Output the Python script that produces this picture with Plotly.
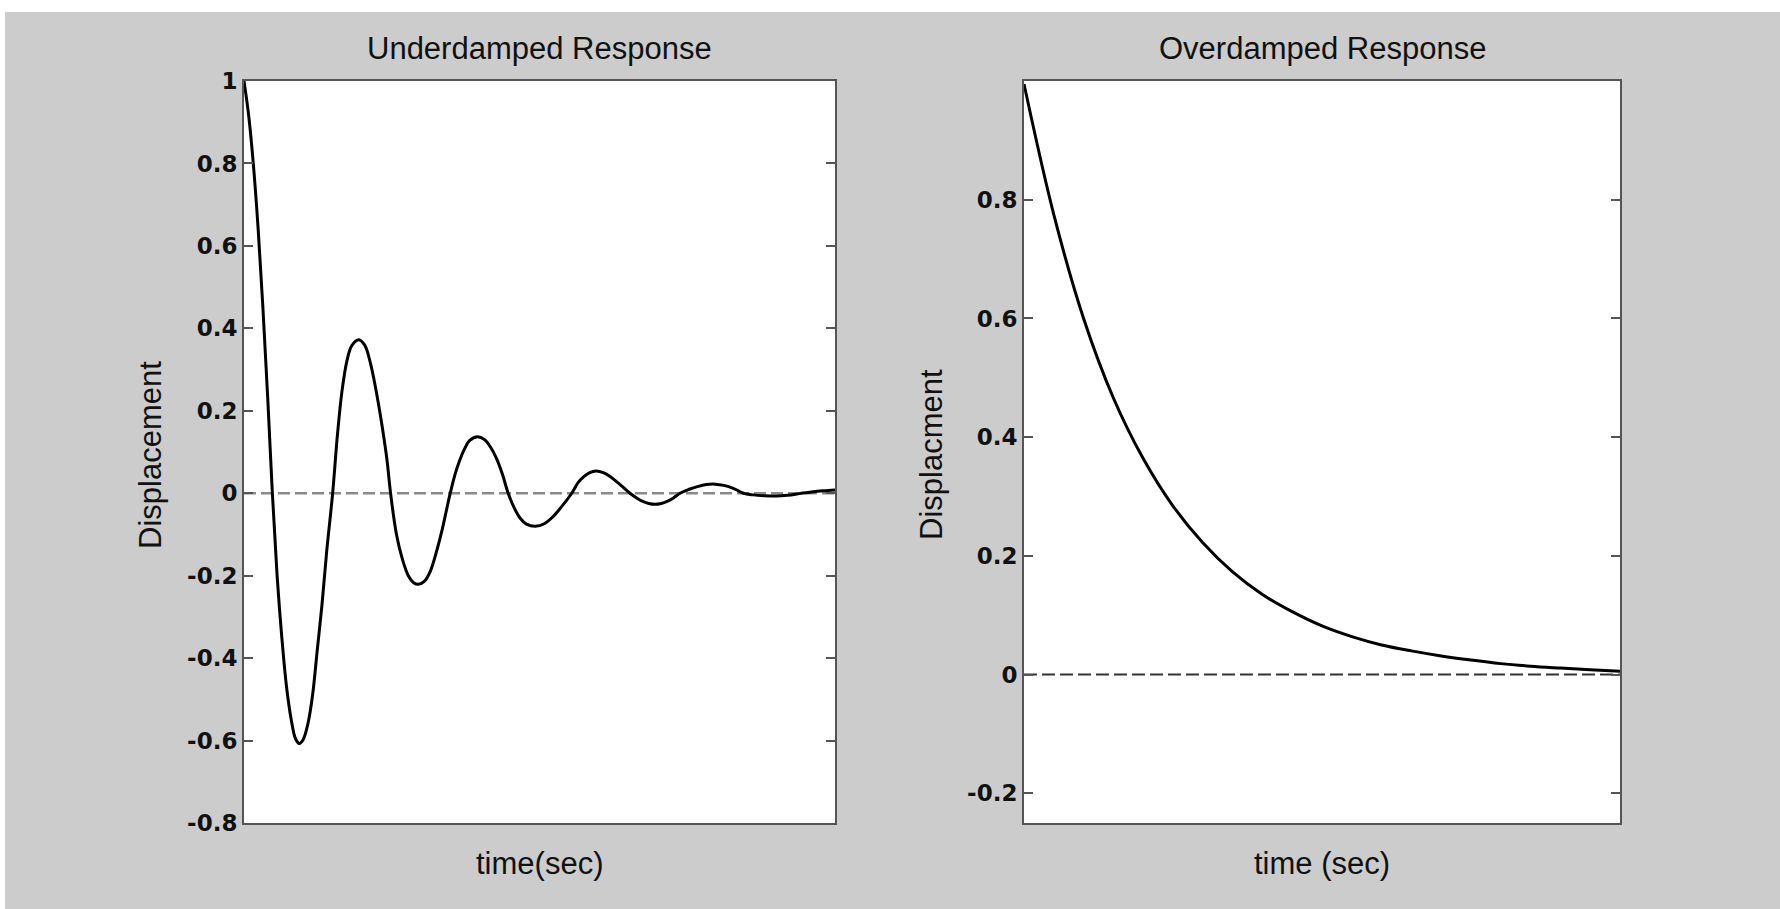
import plotly.graph_objects as go

# ---- data ----
t_under = [0, 0.08, 0.16, 0.24, 0.32, 0.40, 0.48,
           0.56, 0.64, 0.72, 0.80, 0.87, 0.936,
           1.0, 1.08, 1.16, 1.24, 1.32, 1.40, 1.50,
           1.58, 1.66, 1.74, 1.82, 1.93, 2.04, 2.14, 2.24, 2.34, 2.42, 2.48,
           2.58, 2.68, 2.78, 2.87, 2.95, 3.05, 3.15, 3.25, 3.35, 3.42, 3.49,
           3.57, 3.65, 3.73, 3.82, 3.95, 4.07, 4.17, 4.27, 4.37, 4.47,
           4.57, 4.67, 4.78, 4.93, 5.08, 5.22, 5.36, 5.545,
           5.65, 5.75, 5.85, 5.956, 6.08, 6.20, 6.33, 6.531,
           6.65, 6.75, 6.85, 6.954, 7.06, 7.16, 7.26, 7.377,
           7.52, 7.67, 7.82, 7.97, 8.12, 8.28, 8.449,
           8.62, 8.80, 9.00, 9.20, 9.40, 9.60, 9.80, 10]
y_under = [1.0, 0.915, 0.795, 0.64, 0.45, 0.235, 0.0,
           -0.20, -0.35, -0.47, -0.55, -0.595, -0.607,
           -0.598, -0.56, -0.49, -0.38, -0.27, -0.14, 0.0,
           0.14, 0.25, 0.32, 0.357, 0.372, 0.36, 0.315, 0.245, 0.16, 0.08, 0.0,
           -0.10, -0.16, -0.20, -0.217, -0.221, -0.214, -0.19, -0.145, -0.09, -0.045, 0.0,
           0.045, 0.08, 0.107, 0.128, 0.137, 0.13, 0.112, 0.085, 0.047, 0.0,
           -0.035, -0.06, -0.075, -0.08, -0.074, -0.058, -0.035, 0.0,
           0.025, 0.04, 0.05, 0.054, 0.05, 0.04, 0.025, 0.0,
           -0.012, -0.02, -0.025, -0.027, -0.025, -0.02, -0.012, 0.0,
           0.009, 0.016, 0.021, 0.022, 0.019, 0.012, 0.0,
           -0.004, -0.006, -0.007, -0.005, -0.001, 0.003, 0.006, 0.008]

t_over = [0, 0.5, 1.0, 1.5, 2.0, 2.5, 3.0, 3.5, 4.0, 4.5, 5.0, 5.5, 6.0, 6.5, 7.0,
          7.5, 8.0, 8.5, 9.0, 9.5, 10]
y_over = [0.995, 0.775, 0.600, 0.466, 0.364, 0.284, 0.222, 0.173, 0.135, 0.106, 0.082,
          0.064, 0.050, 0.040, 0.0315, 0.0245, 0.0185, 0.0142, 0.011, 0.008, 0.0055]

zero_t = [0, 10]
zero_y = [0, 0]

left_ticks = [-0.8, -0.6, -0.4, -0.2, 0, 0.2, 0.4, 0.6, 0.8, 1]
left_labels = ["-0.8", "-0.6", "-0.4", "-0.2", "0", "0.2", "0.4", "0.6", "0.8", "1"]
right_ticks = [-0.2, 0, 0.2, 0.4, 0.6, 0.8]
right_labels = ["-0.2", "0", "0.2", "0.4", "0.6", "0.8"]

titles = ["Underdamped Response", "Overdamped Response"]
ylabels = ["Displacement", "Displacment"]
xlabels = ["time(sec)", "time (sec)"]

# ---- layout geometry (pixels of 1780x909 page) ----
W, H = 1780, 909
def px(x):
    return x / W
def py(y):
    return 1 - y / H

fig = go.Figure()

fig.add_trace(go.Scatter(x=zero_t, y=zero_y, mode="lines", xaxis="x", yaxis="y",
                         line=dict(color="#8a8a8a", width=2.5, dash="12px,5px"), hoverinfo="skip"))
fig.add_trace(go.Scatter(x=t_under, y=y_under, mode="lines", xaxis="x", yaxis="y",
                         line=dict(color="black", width=3, shape="spline", smoothing=1.0)))
fig.add_trace(go.Scatter(x=zero_t, y=zero_y, mode="lines", xaxis="x2", yaxis="y2",
                         line=dict(color="#333333", width=2, dash="13px,5px"), hoverinfo="skip"))
fig.add_trace(go.Scatter(x=t_over, y=y_over, mode="lines", xaxis="x2", yaxis="y2",
                         line=dict(color="black", width=3, shape="spline", smoothing=1.0)))

tickfont = dict(family="DejaVu Sans, Liberation Sans, Arial", size=23, color="#111111", weight="bold")
textfont = dict(family="Liberation Sans, Arial", size=31, color="#111111")
frame = "#555555"

xcommon = dict(range=[0, 10], showline=True, mirror=True, linecolor=frame, linewidth=2,
               showgrid=False, zeroline=False, ticks="", showticklabels=False, fixedrange=True,
               automargin=False)
ycommon = dict(showline=True, mirror="ticks", linecolor=frame, linewidth=2, showgrid=False,
               zeroline=False, ticks="inside", ticklen=9, tickwidth=2, tickcolor=frame,
               tickmode="array", tickfont=tickfont, fixedrange=True, automargin=False)

ydom = [py(823), py(81)]
fig.update_layout(
    width=W, height=H, autosize=False,
    margin=dict(l=0, r=0, t=0, b=0, pad=0, autoexpand=False),
    paper_bgcolor="#cccccc", plot_bgcolor="white",
    showlegend=False,
    xaxis=dict(domain=[px(244), px(835)], anchor="y", **xcommon),
    yaxis=dict(domain=ydom, anchor="x", range=[-0.8, 1.0], tickvals=left_ticks,
               ticktext=left_labels, **ycommon),
    xaxis2=dict(domain=[px(1024), px(1620)], anchor="y2", **xcommon),
    yaxis2=dict(domain=ydom, anchor="x2", range=[-0.25, 1.0], tickvals=right_ticks,
                ticktext=right_labels, **ycommon),
)

# white strips at top and left edge of the page
fig.add_shape(type="rect", xref="paper", yref="paper", x0=0, x1=1, y0=py(12), y1=1,
              fillcolor="white", line_width=0, layer="below")
fig.add_shape(type="rect", xref="paper", yref="paper", x0=0, x1=px(5), y0=0, y1=1,
              fillcolor="white", line_width=0, layer="below")

centers = [(244 + 835) / 2, (1024 + 1620) / 2]
ylab_x = [150, 931]
for i in range(2):
    fig.add_annotation(text=titles[i], xref="paper", yref="paper", x=px(centers[i]), y=py(49),
                       showarrow=False, font=textfont, xanchor="center", yanchor="middle")
    fig.add_annotation(text=xlabels[i], xref="paper", yref="paper", x=px(centers[i]), y=py(863),
                       showarrow=False, font=textfont, xanchor="center", yanchor="middle")
    fig.add_annotation(text=ylabels[i], xref="paper", yref="paper", x=px(ylab_x[i]), y=py(455),
                       showarrow=False, font=textfont, textangle=-90,
                       xanchor="center", yanchor="middle")

fig.write_html("out.html", config={"displayModeBar": False},
               post_script="document.body.style.margin='0';document.body.style.overflow='hidden';")
